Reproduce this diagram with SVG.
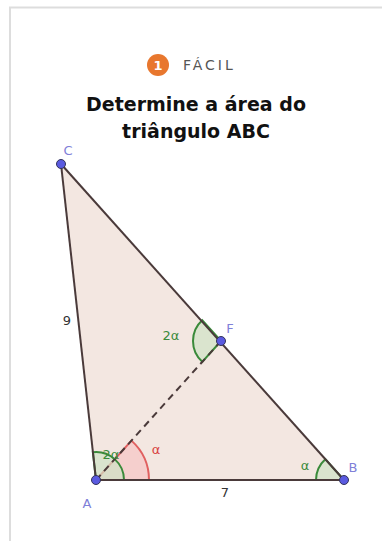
<svg xmlns="http://www.w3.org/2000/svg" width="382" height="541" viewBox="0 0 382 541">
<style>
.lbl{font-family:"DejaVu Sans","Liberation Sans",sans-serif;font-size:13px}
.pt{fill:#8080d8}
.grn{fill:#3a8a3a}
.red{fill:#d84040}
.num{fill:#333}
.dot{fill:#5a5ae0;stroke:#33335a;stroke-width:1}
.ag{fill:#cfe3c6;fill-opacity:0.7;stroke:#3a8a3a;stroke-width:2}
.ar{fill:#f5c4c4;fill-opacity:0.7;stroke:#e06060;stroke-width:2}
</style>
<rect width="382" height="541" fill="#fff"/>
<path d="M10,541 V7.5 H382" fill="none" stroke="#ddd" stroke-width="2"/>
<g id="badge">
<circle cx="158" cy="65" r="11" fill="#e8772e"/>
<text x="158" y="70" text-anchor="middle" font-family="DejaVu Sans,sans-serif" font-size="13" font-weight="bold" fill="#fff">1</text>
<text x="183" y="70" font-family="DejaVu Sans,sans-serif" font-size="14" letter-spacing="3" fill="#555">FÁCIL</text>
</g>
<g id="title" font-family="DejaVu Sans,Verdana,sans-serif" font-size="19" font-weight="bold" fill="#111" text-anchor="middle">
<text x="196" y="111">Determine a área do</text>
<text x="196" y="138">triângulo ABC</text>
</g>
<g id="triangle">
<polygon points="61,164 96,480 344,480" fill="#f3e7e1" stroke="none"/>
</g>
<g id="angles">
<path class="ar" d="M96,480 L149,480 A53,53 0 0,0 131.46,440.62 Z"/>
<path class="ag" d="M96,480 L124,480 A28,28 0 0,0 92.88,452.17 Z"/>
<path class="ag" d="M221,341 L202.27,361.81 A28,28 0 0,1 202.19,320.26 Z"/>
<path class="ag" d="M344,480 L316,480 A28,28 0 0,1 325.3,459.17 Z"/>
</g>
<g id="connectors" stroke="#4a3a3a" stroke-width="2" fill="none">
<line x1="61" y1="164" x2="96" y2="480"/>
<line x1="96" y1="480" x2="344" y2="480"/>
<line x1="61" y1="164" x2="344" y2="480"/>
<line x1="96" y1="480" x2="221" y2="341" stroke-dasharray="7,5"/>
</g>
<g id="labels" class="lbl">
<text x="67" y="325" text-anchor="middle" class="num">9</text>
<text x="225" y="497" text-anchor="middle" class="num">7</text>
<text x="171" y="340" text-anchor="middle" class="grn">2α</text>
<text x="156" y="454" text-anchor="middle" class="red">α</text>
<text x="111" y="459" text-anchor="middle" class="grn">2α</text>
<text x="305" y="470" text-anchor="middle" class="grn">α</text>
</g>
<g id="A"><circle class="dot" cx="96" cy="480" r="4.5"/><text class="lbl pt" x="87" y="508" text-anchor="middle">A</text></g>
<g id="B"><circle class="dot" cx="344" cy="480" r="4.5"/><text class="lbl pt" x="353" y="472" text-anchor="middle">B</text></g>
<g id="C"><circle class="dot" cx="61" cy="164" r="4.5"/><text class="lbl pt" x="68" y="155" text-anchor="middle">C</text></g>
<g id="F"><circle class="dot" cx="221" cy="341" r="4.5"/><text class="lbl pt" x="230" y="333" text-anchor="middle">F</text></g>
</svg>
